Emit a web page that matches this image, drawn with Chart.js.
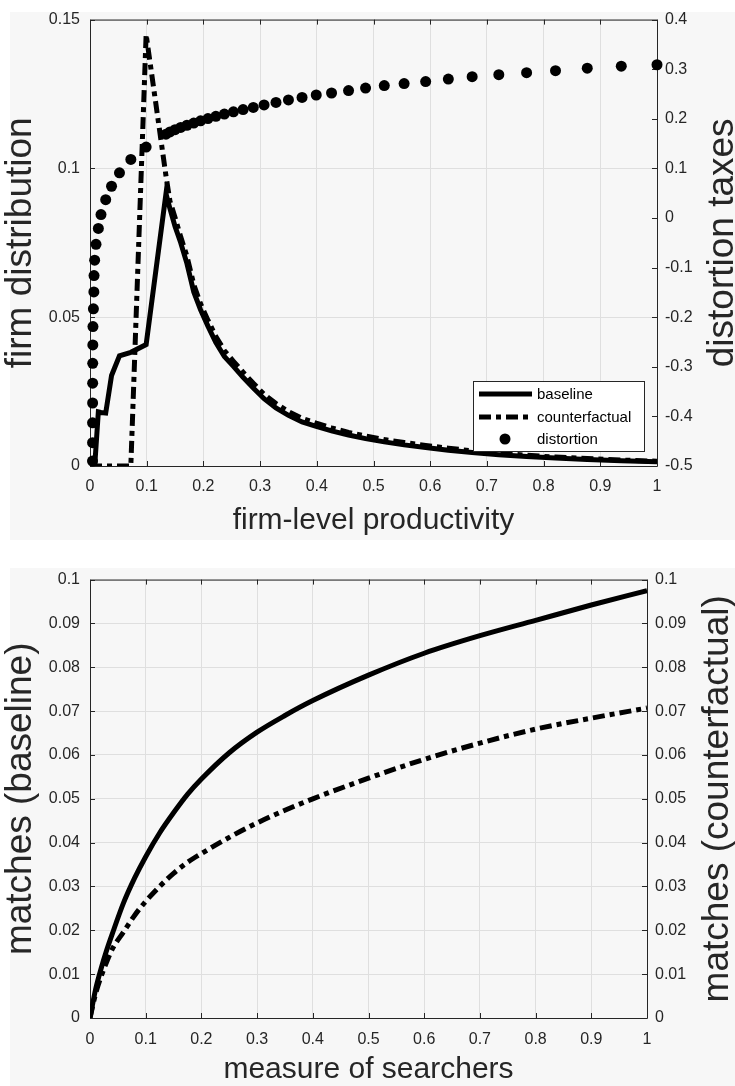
<!DOCTYPE html>
<html>
<head>
<meta charset="utf-8">
<script src="https://cdn.jsdelivr.net/npm/chart.js@4.4.1/dist/chart.umd.min.js"></script>
<style>
  html, body { margin: 0; padding: 0; background: #fff; }
  body { width: 735px; height: 1086px; position: relative; overflow: hidden; }
  .panel { position: absolute; background: #f7f7f7; }
  canvas { position: absolute; left: 0; }
</style>
</head>
<body>
<div class="panel" style="left:10px; top:12px; width:725px; height:528px"></div>
<div class="panel" style="left:10px; top:568px; width:725px; height:518px"></div>
<canvas id="topChart" width="735" height="545" style="top:0"></canvas>
<canvas id="bottomChart" width="735" height="526" style="top:560px"></canvas>
<script>
// ---- top panel: firm distribution over productivity ----
const prodGrid = [0, 0.0083, 0.0147, 0.0194, 0.0277, 0.038, 0.052, 0.072, 0.099,
  0.134, 0.141, 0.150, 0.160, 0.171, 0.183, 0.195, 0.208, 0.222, 0.237, 0.253, 0.270, 0.288,
  0.307, 0.328, 0.350, 0.374, 0.399,
  0.426, 0.456, 0.486, 0.519, 0.554, 0.592, 0.632, 0.674, 0.721, 0.770, 0.821, 0.877, 0.937, 1.0];
const baselineDist = [0, 0, 0.0182, 0.0180, 0.0178, 0.0304, 0.0370, 0.0382, 0.0408,
  0.0915, 0.0865, 0.0805, 0.0750, 0.0680, 0.0585, 0.0525, 0.0470, 0.0415, 0.0368, 0.0335, 0.0298, 0.0262,
  0.0226, 0.0195, 0.0170, 0.0148, 0.0133,
  0.0118, 0.0104, 0.0092, 0.0081, 0.0071, 0.0062, 0.0053, 0.0045, 0.0038, 0.0032, 0.0027, 0.0022, 0.0018, 0.0014];
const counterfactualDist = [0, 0, 0, 0, 0, 0, 0, 0, 0.1450,
  0.0975, 0.0890, 0.0835, 0.0770, 0.0705, 0.0610, 0.0545, 0.0490, 0.0435, 0.0388, 0.0352, 0.0315, 0.0278,
  0.0241, 0.0210, 0.0183, 0.0160, 0.0144,
  0.0128, 0.0113, 0.0101, 0.0089, 0.0079, 0.0069, 0.0060, 0.0051, 0.0043, 0.0036, 0.0030, 0.0025, 0.0020, 0.0016];

const distortionX = [0.0044, 0.0045, 0.0045, 0.0046, 0.0047, 0.0048, 0.0050, 0.0052, 0.0060, 0.0068,
  0.0071, 0.0082, 0.0106, 0.0147, 0.0194, 0.0277, 0.038, 0.052, 0.072, 0.099,
  0.134, 0.141, 0.150, 0.160, 0.171, 0.183, 0.195, 0.208, 0.222, 0.237, 0.253, 0.270, 0.288,
  0.307, 0.328, 0.350, 0.374, 0.399,
  0.426, 0.456, 0.486, 0.519, 0.554, 0.592, 0.632, 0.674, 0.721, 0.770, 0.821, 0.877, 0.937, 1.0];
const distortionTax = [-0.490, -0.453, -0.413, -0.373, -0.333, -0.293, -0.256, -0.219, -0.183, -0.149,
  -0.116, -0.085, -0.053, -0.021, 0.007, 0.037, 0.064, 0.091, 0.118, 0.143,
  0.169, 0.1735, 0.178, 0.1825, 0.187, 0.1915, 0.196, 0.2005, 0.205, 0.2095, 0.214, 0.2185, 0.223,
  0.228, 0.233, 0.238, 0.243, 0.248,
  0.252, 0.257, 0.262, 0.267, 0.271, 0.275, 0.280, 0.285, 0.289, 0.293, 0.297, 0.302, 0.306, 0.309];

// ---- bottom panel: matches over searchers ----
const searchers = [0, 0.01, 0.02, 0.03, 0.04, 0.06, 0.08, 0.1, 0.125, 0.15, 0.175, 0.2,
  0.25, 0.3, 0.35, 0.4, 0.5, 0.6, 0.7, 0.8, 0.9, 1.0];
const matchesBaseline = [0, 0.0065, 0.0113, 0.0155, 0.0192, 0.0262, 0.0319, 0.0368, 0.0422, 0.0468, 0.0510, 0.0545,
  0.0605, 0.0652, 0.0690, 0.0724, 0.0782, 0.0832, 0.0872, 0.0907, 0.0942, 0.0975];
const matchesCounterfactual = [0, 0.0055, 0.0095, 0.0128, 0.0157, 0.0196, 0.0234, 0.0266, 0.0300, 0.0330, 0.0355, 0.0375,
  0.0412, 0.0445, 0.0474, 0.0500, 0.0547, 0.0590, 0.0627, 0.0659, 0.0684, 0.0707];

const FONT = "'Liberation Sans', Arial, Helvetica, sans-serif";
const INK = '#262626';
const GRID = '#dfdfdf';
const DASHDOT = [12, 5, 5, 5];

Chart.defaults.font.family = FONT;
Chart.defaults.color = INK;

const toPoints = (xs, ys) => xs.map((x, i) => ({ x: x, y: ys[i] }));

// box round the axes with inward ticks, like the original figure
const boxPlugin = {
  id: 'box',
  beforeDatasetsDraw(chart) {
    const { ctx, chartArea: a } = chart;
    const len = 5;
    ctx.save();
    ctx.strokeStyle = INK;
    ctx.lineWidth = 1;
    ctx.beginPath();
    const xs = chart.scales.x;
    xs.ticks.forEach(t => {
      const p = Math.round(xs.getPixelForValue(t.value)) + 0.5;
      ctx.moveTo(p, a.bottom); ctx.lineTo(p, a.bottom - len);
      ctx.moveTo(p, a.top); ctx.lineTo(p, a.top + len);
    });
    const yl = chart.scales.y;
    yl.ticks.forEach(t => {
      const p = Math.round(yl.getPixelForValue(t.value)) + 0.5;
      ctx.moveTo(a.left, p); ctx.lineTo(a.left + len, p);
    });
    const yr = chart.scales.y2;
    yr.ticks.forEach(t => {
      const p = Math.round(yr.getPixelForValue(t.value)) + 0.5;
      ctx.moveTo(a.right, p); ctx.lineTo(a.right - len, p);
    });
    ctx.rect(a.left + 0.5, a.top + 0.5, a.right - a.left, a.bottom - a.top);
    ctx.stroke();
    ctx.restore();
  }
};

// right axis title reads bottom-to-top in the original
const rightTitle = {
  id: 'rightTitle',
  afterDraw(chart, args, opts) {
    const { ctx, chartArea: a } = chart;
    ctx.save();
    ctx.translate(opts.x, (a.top + a.bottom) / 2);
    ctx.rotate(-Math.PI / 2);
    ctx.font = '37px ' + FONT;
    ctx.fillStyle = INK;
    ctx.textAlign = 'center';
    ctx.textBaseline = 'middle';
    ctx.fillText(opts.text, 0, 0);
    ctx.restore();
  }
};

// boxed legend in the lower right corner
const boxLegend = {
  id: 'boxLegend',
  afterDatasetsDraw(chart, args, opts) {
    const { ctx, chartArea: a } = chart;
    const w = 171, h = 70;
    const x0 = a.right - 13 - w, y0 = a.bottom - 15 - h;
    ctx.save();
    ctx.fillStyle = '#fff';
    ctx.fillRect(x0, y0, w, h);
    ctx.strokeStyle = INK;
    ctx.lineWidth = 1;
    ctx.strokeRect(x0 + 0.5, y0 + 0.5, w, h);
    const rows = [13, 36, 58];
    opts.order.forEach((idx, i) => {
      const ds = chart.data.datasets[idx];
      const y = y0 + rows[i];
      if (ds.showLine === false) {
        ctx.fillStyle = ds.backgroundColor;
        ctx.beginPath();
        ctx.arc(x0 + 32, y, ds.pointRadius, 0, Math.PI * 2);
        ctx.fill();
      } else {
        ctx.strokeStyle = ds.borderColor;
        ctx.lineWidth = ds.borderWidth;
        ctx.setLineDash(ds.borderDash || []);
        ctx.beginPath();
        ctx.moveTo(x0 + 6, y);
        ctx.lineTo(x0 + 59, y);
        ctx.stroke();
        ctx.setLineDash([]);
      }
      ctx.fillStyle = '#000';
      ctx.font = '15px ' + FONT;
      ctx.textBaseline = 'middle';
      ctx.fillText(ds.label, x0 + 64, y + 1);
    });
    ctx.restore();
  }
};

const tickFont = { size: 16, family: FONT };
const numFormat = { minimumFractionDigits: 0, maximumFractionDigits: 3 };

function xAxis(title, pad, height, titlePad) {
  return {
    type: 'linear', min: 0, max: 1,
    ticks: { stepSize: 0.1, padding: pad, font: tickFont, color: INK, format: numFormat, maxRotation: 0 },
    grid: { color: GRID, drawTicks: false },
    border: { display: false },
    title: { display: true, text: title, color: INK, font: { size: 30, family: FONT, lineHeight: 1 },
      padding: { top: 0, bottom: titlePad } },
    afterFit(s) { s.height = height; }
  };
}

function yAxis(min, max, step, title) {
  return {
    position: 'left', min: min, max: max,
    ticks: { stepSize: step, padding: 10, font: tickFont, color: INK, format: numFormat },
    grid: { color: GRID, drawTicks: false },
    border: { display: false },
    title: { display: true, text: title, color: INK, font: { size: 37, family: FONT, lineHeight: 1 },
      padding: { top: 2, bottom: 0 } },
    afterFit(s) { s.width = 90; }
  };
}

function y2Axis(min, max, step, width) {
  return {
    position: 'right', min: min, max: max,
    ticks: { stepSize: step, padding: 8, font: tickFont, color: INK, format: numFormat },
    grid: { display: false, drawTicks: false },
    border: { display: false },
    afterFit(s) { s.width = width; }
  };
}

new Chart(document.getElementById('topChart'), {
  type: 'line',
  data: {
    datasets: [
      {
        label: 'distortion', type: 'scatter', yAxisID: 'y2',
        data: toPoints(distortionX, distortionTax),
        showLine: false, pointRadius: 5.5, pointHoverRadius: 5.5,
        backgroundColor: '#000', borderWidth: 0, clip: false
      },
      {
        label: 'baseline', yAxisID: 'y',
        data: toPoints(prodGrid, baselineDist),
        borderColor: '#000', borderWidth: 5, pointRadius: 0, tension: 0,
        borderCapStyle: 'butt', borderJoinStyle: 'miter'
      },
      {
        label: 'counterfactual', yAxisID: 'y',
        data: toPoints(prodGrid, counterfactualDist),
        borderColor: '#000', borderWidth: 5, borderDash: DASHDOT, pointRadius: 0, tension: 0,
        borderCapStyle: 'butt', borderJoinStyle: 'miter'
      }
    ]
  },
  options: {
    responsive: false,
    animation: false,
    layout: { padding: { top: 17, left: 0, right: 0, bottom: 0 } },
    plugins: {
      legend: { display: false },
      tooltip: { enabled: false },
      rightTitle: { text: 'distortion taxes', x: 723 },
      boxLegend: { order: [1, 2, 0] }
    },
    scales: {
      x: xAxis('firm-level productivity', 11, 79, 9),
      y: yAxis(0, 0.15, 0.05, 'firm distribution'),
      y2: y2Axis(-0.5, 0.4, 0.1, 78)
    }
  },
  plugins: [boxPlugin, rightTitle, boxLegend]
});

new Chart(document.getElementById('bottomChart'), {
  type: 'line',
  data: {
    datasets: [
      {
        label: 'baseline', yAxisID: 'y',
        data: toPoints(searchers, matchesBaseline),
        borderColor: '#000', borderWidth: 5, pointRadius: 0,
        cubicInterpolationMode: 'monotone', borderCapStyle: 'butt'
      },
      {
        label: 'counterfactual', yAxisID: 'y2',
        data: toPoints(searchers, matchesCounterfactual),
        borderColor: '#000', borderWidth: 5, borderDash: DASHDOT, pointRadius: 0,
        cubicInterpolationMode: 'monotone', borderCapStyle: 'butt'
      }
    ]
  },
  options: {
    responsive: false,
    animation: false,
    layout: { padding: { top: 15, left: 0, right: 0, bottom: 0 } },
    plugins: {
      legend: { display: false },
      tooltip: { enabled: false },
      rightTitle: { text: 'matches (counterfactual)', x: 718 }
    },
    scales: {
      x: xAxis('measure of searchers', 12, 68, 1),
      y: yAxis(0, 0.1, 0.01, 'matches (baseline)'),
      y2: y2Axis(0, 0.1, 0.01, 88)
    }
  },
  plugins: [boxPlugin, rightTitle]
});
</script>
</body>
</html>
